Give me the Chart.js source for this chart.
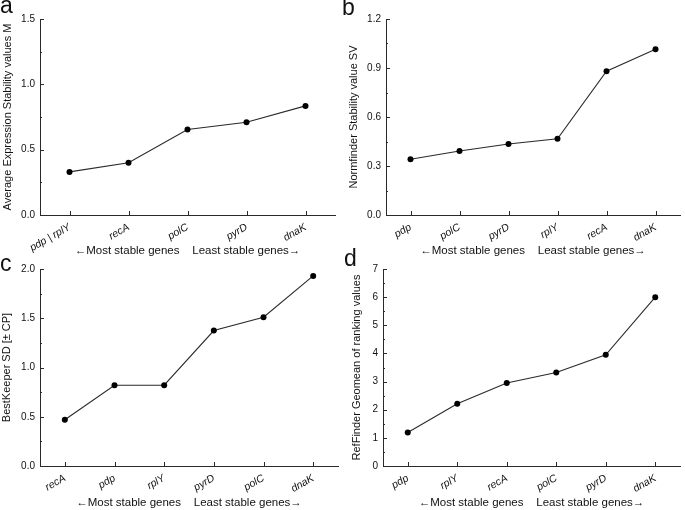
<!DOCTYPE html>
<html>
<head>
<meta charset="utf-8">
<script src="https://cdn.jsdelivr.net/npm/chart.js@4.4.0/dist/chart.umd.min.js"></script>
<style>
  body { margin: 0; background: #fff; }
  #wrap { position: relative; width: 685px; height: 510px; overflow: hidden; }
  canvas { position: absolute; }
  .lbl { position: absolute; font-family: "Liberation Sans", Arial, sans-serif; font-size: 23px; color: #111; line-height: 1; }
</style>
</head>
<body>
<div id="wrap">
  <canvas id="ca" width="342" height="258" style="left:0;top:0"></canvas>
  <canvas id="cb" width="342" height="258" style="left:342px;top:0"></canvas>
  <canvas id="cc" width="342" height="258" style="left:0;top:252px"></canvas>
  <canvas id="cd" width="342" height="258" style="left:342px;top:252px"></canvas>
  <div class="lbl" style="left:0;top:-6px">a</div>
  <div class="lbl" style="left:342px;top:-4px">b</div>
  <div class="lbl" style="left:0;top:252px">c</div>
  <div class="lbl" style="left:344px;top:247px">d</div>
</div>
<script>
// panel a - geNorm
const aGenes = ["pdp | rplY", "recA", "polC", "pyrD", "dnaK"];
const aValues = [0.33, 0.40, 0.655, 0.71, 0.835];
// panel b - NormFinder
const bGenes = ["pdp", "polC", "pyrD", "rplY", "recA", "dnaK"];
const bValues = [0.341, 0.392, 0.435, 0.467, 0.880, 1.015];
// panel c - BestKeeper
const cGenes = ["recA", "pdp", "rplY", "pyrD", "polC", "dnaK"];
const cValues = [0.47, 0.82, 0.82, 1.375, 1.51, 1.93];
// panel d - RefFinder
const dGenes = ["pdp", "rplY", "recA", "polC", "pyrD", "dnaK"];
const dValues = [1.19, 2.21, 2.95, 3.32, 3.95, 6.0];

const xTitle = "\u2190Most stable genes    Least stable genes\u2192";
const FONT = "'Liberation Sans', Arial, sans-serif";
const INK = "#2a2a2a";
const TXT = "#111";

// inward major ticks + short minor ticks, placed with the chart's scales
const innerTicks = {
  id: "innerTicks",
  afterDraw(chart) {
    const ctx = chart.ctx;
    const x = chart.scales.x;
    const y = chart.scales.y;
    ctx.save();
    ctx.strokeStyle = INK;
    ctx.lineWidth = 1;
    ctx.beginPath();
    const yt = y.ticks;
    for (let i = 0; i < yt.length; i++) {
      const py = Math.round(y.getPixelForValue(yt[i].value)) + 0.5;
      ctx.moveTo(y.right, py);
      ctx.lineTo(y.right + 4, py);
      if (i < yt.length - 1) {
        const pm = Math.round(y.getPixelForValue((yt[i].value + yt[i + 1].value) / 2)) + 0.5;
        ctx.moveTo(y.right, pm);
        ctx.lineTo(y.right + 2, pm);
      }
    }
    for (let i = 0; i < x.ticks.length; i++) {
      const px = Math.round(x.getPixelForTick(i)) + 0.5;
      ctx.moveTo(px, x.top);
      ctx.lineTo(px, x.top - 4);
    }
    ctx.stroke();
    ctx.restore();
  }
};

function makePanel(id, labels, values, yMax, yStep, digits, yTitle, box) {
  new Chart(document.getElementById(id), {
    type: "line",
    data: {
      labels: labels,
      datasets: [{
        data: values,
        borderColor: INK,
        borderWidth: 1.1,
        pointRadius: 3,
        pointBackgroundColor: "#000",
        pointBorderColor: "#000",
        pointBorderWidth: 0,
        tension: 0,
        fill: false
      }]
    },
    options: {
      responsive: false,
      animation: false,
      layout: { padding: { left: 0, top: box.top, right: box.right, bottom: 0 } },
      plugins: { legend: { display: false }, tooltip: { enabled: false } },
      scales: {
        x: {
          type: "category",
          offset: true,
          grid: { display: false, drawTicks: false },
          border: { display: true, color: INK, width: 1 },
          ticks: {
            autoSkip: false,
            minRotation: 30,
            maxRotation: 30,
            padding: 6,
            color: TXT,
            font: { family: FONT, size: 10.5, style: "italic" }
          },
          title: {
            display: true,
            text: xTitle,
            color: TXT,
            font: { family: FONT, size: 11.5 },
            padding: { top: 0, bottom: box.xTitlePad }
          },
          afterFit: s => { s.height = box.xh; }
        },
        y: {
          min: 0,
          max: yMax,
          grid: { display: false, drawTicks: false },
          border: { display: true, color: INK, width: 1 },
          ticks: {
            stepSize: yStep,
            padding: 5,
            color: TXT,
            font: { family: FONT, size: 10 },
            callback: v => Number(v).toFixed(digits)
          },
          title: {
            display: true,
            text: yTitle,
            color: TXT,
            font: { family: FONT, size: 11 },
            padding: { top: box.yTitlePad, bottom: 0 }
          },
          afterFit: s => { s.width = box.left; }
        }
      }
    },
    plugins: [innerTicks]
  });
}

makePanel("ca", aGenes, aValues, 1.5, 0.5, 1, "Average Expression Stability values M",
  { left: 40, right: 7, top: 19, xh: 43, xTitlePad: 0, yTitlePad: 1.5 });
makePanel("cb", bGenes, bValues, 1.2, 0.3, 1, "Normfinder Stability value SV",
  { left: 44, right: 1, top: 19, xh: 43, xTitlePad: 0, yTitlePad: 5.5 });
makePanel("cc", cGenes, cValues, 2.0, 0.5, 1, "BestKeeper SD [\u00b1 CP]",
  { left: 40, right: 4, top: 17, xh: 44, xTitlePad: 0, yTitlePad: 0 });
makePanel("cd", dGenes, dValues, 7, 1, 0, "RefFinder Geomean of ranking values",
  { left: 41, right: 2, top: 17, xh: 44, xTitlePad: 0, yTitlePad: 8.5 });
</script>
</body>
</html>
